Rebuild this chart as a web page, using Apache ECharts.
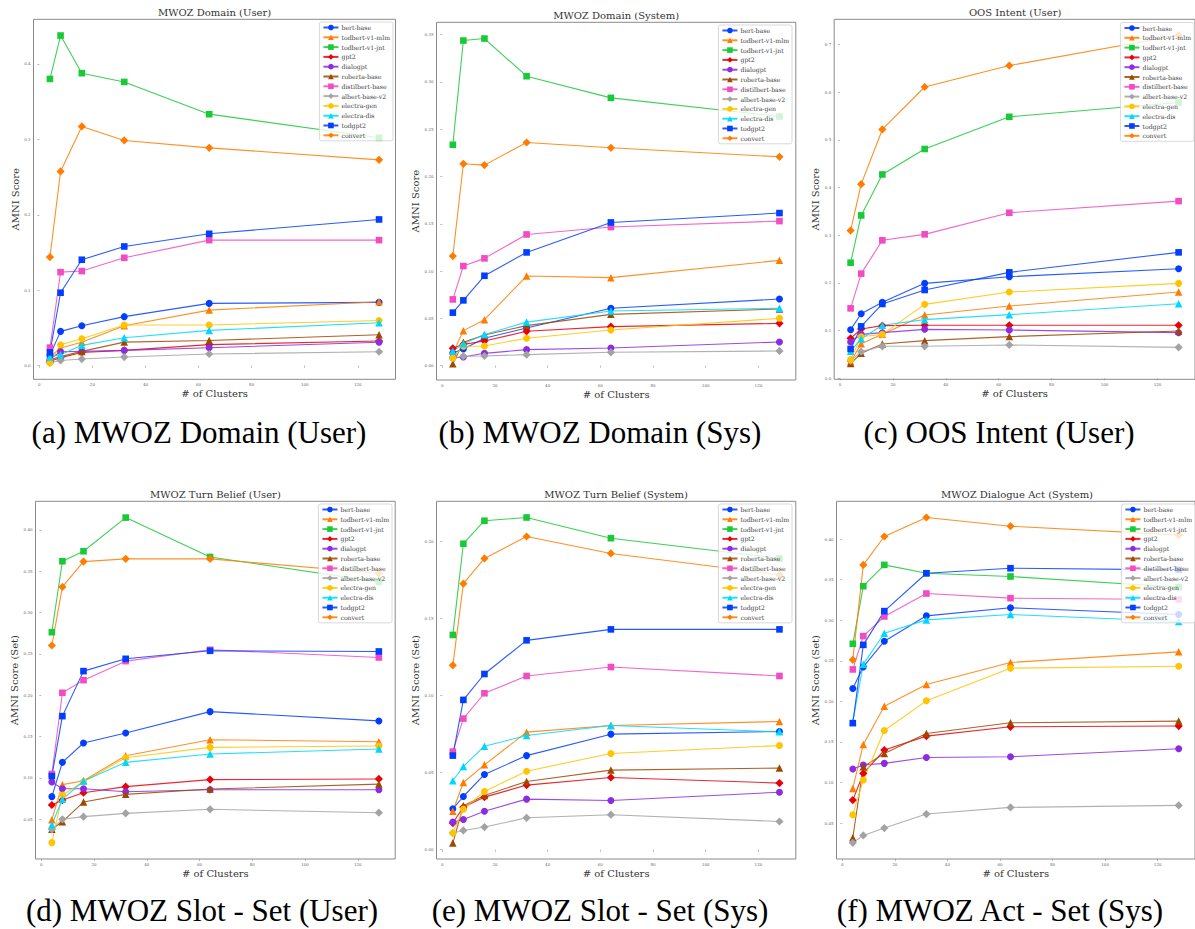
<!DOCTYPE html>
<html>
<head>
<meta charset="utf-8">
<script src="https://cdn.jsdelivr.net/npm/echarts@6/dist/echarts.min.js"></script>
<style>
html,body{margin:0;padding:0;background:#fff;}
#chart{width:1195px;height:929px;}
</style>
</head>
<body>
<div id="chart"></div>
<script>
// ---------- DATA ----------
const clusters = [4, 8, 16, 32, 64, 128];
const modelNames = ['bert-base','todbert-v1-mlm','todbert-v1-jnt','gpt2','dialogpt','roberta-base',
  'distilbert-base','albert-base-v2','electra-gen','electra-dis','todgpt2','convert'];
const xTickLabels = [0, 20, 40, 60, 80, 100, 120];

const panelTitles = ['MWOZ Domain (User)','MWOZ Domain (System)','OOS Intent (User)',
  'MWOZ Turn Belief (User)','MWOZ Turn Belief (System)','MWOZ Dialogue Act (System)'];
const panelCaptions = ['(a) MWOZ Domain (User)','(b) MWOZ Domain (Sys)','(c) OOS Intent (User)',
  '(d) MWOZ Slot - Set (User)','(e) MWOZ Slot - Set (Sys)','(f) MWOZ Act - Set (Sys)'];
const yAxisNames = ['AMNI Score','AMNI Score','AMNI Score','AMNI Score (Set)','AMNI Score (Set)','AMNI Score (Set)'];

const yTicksA = [0.0, 0.1, 0.2, 0.3, 0.4];
const yTicksB = [0.00, 0.05, 0.10, 0.15, 0.20, 0.25, 0.30, 0.35];
const yTicksC = [0.0, 0.1, 0.2, 0.3, 0.4, 0.5, 0.6, 0.7];
const yTicksD = [0.05, 0.10, 0.15, 0.20, 0.25, 0.30, 0.35, 0.40];
const yTicksE = [0.00, 0.05, 0.10, 0.15, 0.20];
const yTicksF = [0.05, 0.10, 0.15, 0.20, 0.25, 0.30, 0.35, 0.40];

// rows follow modelNames order; columns follow clusters
const domainUser = [
  [0.014, 0.0455, 0.053, 0.065, 0.0826, 0.0839],
  [0.012, 0.0234, 0.031, 0.053, 0.0737, 0.0848],
  [0.380, 0.4375, 0.3876, 0.376, 0.3333, 0.302],
  [0.006, 0.0106, 0.0175, 0.0203, 0.028, 0.0327],
  [0.009, 0.0185, 0.019, 0.0203, 0.0238, 0.031],
  [0.008, 0.012, 0.019, 0.0313, 0.0335, 0.041],
  [0.024, 0.124, 0.1254, 0.143, 0.1664, 0.1664],
  [0.004, 0.007, 0.0088, 0.0115, 0.0155, 0.0185],
  [0.0035, 0.0278, 0.0358, 0.054, 0.054, 0.060],
  [0.0115, 0.0146, 0.027, 0.037, 0.0468, 0.057],
  [0.0177, 0.0967, 0.1404, 0.158, 0.1748, 0.1938],
  [0.144, 0.2574, 0.317, 0.2985, 0.2887, 0.2728]
];
const domainSys = [
  [0.0134, 0.0176, 0.029, 0.0398, 0.0606, 0.0704],
  [0.0127, 0.037, 0.0486, 0.0947, 0.093, 0.1113],
  [0.2335, 0.3437, 0.3458, 0.306, 0.2831, 0.2634],
  [0.0183, 0.0225, 0.026, 0.0363, 0.0412, 0.0447],
  [0.008, 0.0092, 0.013, 0.0169, 0.0187, 0.025],
  [0.002, 0.0246, 0.0324, 0.0423, 0.0542, 0.0599],
  [0.070, 0.1053, 0.1134, 0.1387, 0.1465, 0.1528],
  [0.008, 0.0099, 0.0102, 0.0116, 0.0141, 0.0155],
  [0.008, 0.0204, 0.0208, 0.0289, 0.0377, 0.050],
  [0.0155, 0.023, 0.033, 0.046, 0.0577, 0.0606],
  [0.056, 0.069, 0.095, 0.1197, 0.1514, 0.1613],
  [0.1158, 0.2134, 0.212, 0.2359, 0.2303, 0.2208]
];
const oosIntent = [
  [0.1021, 0.1356, 0.1594, 0.1992, 0.2132, 0.230],
  [0.035, 0.0728, 0.0923, 0.1328, 0.1517, 0.181],
  [0.2425, 0.3417, 0.4276, 0.481, 0.5485, 0.5785],
  [0.084, 0.1035, 0.1105, 0.1112, 0.1112, 0.1112],
  [0.0763, 0.0923, 0.0958, 0.1028, 0.1014, 0.0958],
  [0.0309, 0.0525, 0.0721, 0.0791, 0.0875, 0.0993],
  [0.1468, 0.2196, 0.2895, 0.302, 0.3473, 0.3717],
  [0.0364, 0.056, 0.0672, 0.0672, 0.070, 0.065],
  [0.0393, 0.0874, 0.0923, 0.1552, 0.181, 0.1992],
  [0.0567, 0.0832, 0.1112, 0.1231, 0.1336, 0.1566],
  [0.0616, 0.109, 0.156, 0.1853, 0.2223, 0.2642],
  [0.310, 0.4073, 0.522, 0.611, 0.656, 0.7197]
];
const slotUser = [
  [0.0774, 0.1189, 0.1423, 0.1544, 0.1802, 0.169],
  [0.0496, 0.0919, 0.0967, 0.1269, 0.1463, 0.1438],
  [0.2763, 0.3621, 0.3742, 0.4149, 0.3673, 0.3371],
  [0.0673, 0.0733, 0.0822, 0.0895, 0.098, 0.0988],
  [0.0951, 0.087, 0.087, 0.0834, 0.0858, 0.0858],
  [0.0379, 0.0471, 0.0709, 0.0802, 0.0866, 0.0926],
  [0.1048, 0.203, 0.2183, 0.2413, 0.255, 0.2457],
  [0.0379, 0.050, 0.0532, 0.0572, 0.0621, 0.058],
  [0.0218, 0.0794, 0.0955, 0.1245, 0.137, 0.1386],
  [0.0435, 0.0742, 0.0963, 0.1189, 0.129, 0.135],
  [0.1023, 0.1748, 0.2292, 0.2441, 0.2538, 0.253],
  [0.2602, 0.3311, 0.3617, 0.365, 0.365, 0.3476]
];
const slotSys = [
  [0.0265, 0.0345, 0.0488, 0.061, 0.0749, 0.0766],
  [0.025, 0.0436, 0.055, 0.0762, 0.0805, 0.0831],
  [0.1392, 0.1983, 0.2132, 0.2153, 0.2019, 0.1888],
  [0.0173, 0.0276, 0.0341, 0.0419, 0.0468, 0.0432],
  [0.0179, 0.0196, 0.025, 0.0328, 0.0319, 0.0373],
  [0.0043, 0.0285, 0.0352, 0.0442, 0.0516, 0.0529],
  [0.0636, 0.085, 0.1014, 0.1126, 0.1184, 0.1126],
  [0.0108, 0.0125, 0.0147, 0.0207, 0.0227, 0.0183],
  [0.0108, 0.0263, 0.0378, 0.0509, 0.0624, 0.0675],
  [0.0447, 0.054, 0.0671, 0.074, 0.0805, 0.0764],
  [0.061, 0.0971, 0.1139, 0.1357, 0.1428, 0.1428],
  [0.1195, 0.1724, 0.1888, 0.203, 0.192, 0.1782]
];
const actSys = [
  [0.216, 0.2426, 0.2742, 0.3055, 0.3154, 0.3072],
  [0.0927, 0.1469, 0.1941, 0.2208, 0.248, 0.2611],
  [0.271, 0.342, 0.3683, 0.358, 0.354, 0.3408],
  [0.0783, 0.1112, 0.140, 0.1572, 0.1687, 0.1696],
  [0.1166, 0.1215, 0.1236, 0.1309, 0.1318, 0.1417],
  [0.0319, 0.1194, 0.1358, 0.1605, 0.1736, 0.1757],
  [0.2394, 0.2805, 0.3047, 0.333, 0.3273, 0.3256],
  [0.0257, 0.0348, 0.0438, 0.0611, 0.0693, 0.0718],
  [0.0603, 0.103, 0.1642, 0.2007, 0.241, 0.2434],
  [0.175, 0.2459, 0.2841, 0.3005, 0.3072, 0.2986],
  [0.1732, 0.2697, 0.3113, 0.358, 0.3642, 0.3622],
  [0.2512, 0.3683, 0.4033, 0.4267, 0.416, 0.4053]
];

// ---------- STYLE / LAYOUT ----------
const colors = ['#023eff','#ff7c00','#1ac938','#e8000b','#8b2be2','#9f4800',
  '#f14cc1','#a3a3a3','#ffc400','#00d7ff','#023eff','#ff7c00'];
const symbols = ['circle','triangle','rect','diamond','circle','triangle','rect','diamond','circle','triangle','rect','diamond'];
const symSize = {circle: 7, triangle: 7.5, rect: 6.6, diamond: 8.2};

const panelValues = [domainUser, domainSys, oosIntent, slotUser, slotSys, actSys];
const panelYTicks = [yTicksA, yTicksB, yTicksC, yTicksD, yTicksE, yTicksF];
const panelDecimals = [1, 2, 1, 2, 2, 2];
const panelYRange = [[-0.018, 0.459], [-0.0152, 0.363], [-0.002, 0.753], [0.002, 0.4346], [-0.006, 0.2258], [0.0057, 0.4467]];
const grids = [
  {left: 33.5, top: 19.3, width: 362, height: 360},
  {left: 436.5, top: 22.3, width: 359.3, height: 357.7},
  {left: 834.2, top: 19.3, width: 361.8, height: 360},
  {left: 35.5, top: 501.3, width: 359.7, height: 357.7},
  {left: 436.5, top: 501.3, width: 359.3, height: 357.7},
  {left: 836.5, top: 501.3, width: 361, height: 357.7}
];
const legendPos = [
  {right: 802, top: 22}, {right: 403, top: 25}, {right: 1, top: 22.5},
  {right: 803, top: 504}, {right: 403, top: 504}, {right: 0, top: 504}
];
const yNameGap = [12, 14, 12, 13, 14, 13];
const captionPos = [[199, 432], [600, 432], [999, 432], [202, 910], [600, 910], [1000, 910]];

const serif = 'DejaVu Serif';
const times = "'Liberation Serif', 'Times New Roman', Times, serif";
const chart = echarts.init(document.getElementById('chart'), null, {renderer: 'svg'});

const option = {
  animation: false,
  backgroundColor: '#ffffff',
  grid: [], xAxis: [], yAxis: [], series: [], legend: [], graphic: []
};

panelValues.forEach((vals, pi) => {
  const g = grids[pi];
  option.grid.push({left: g.left, top: g.top, width: g.width, height: g.height,
    show: true, borderColor: '#8a8a8a', borderWidth: 1, backgroundColor: 'transparent', containLabel: false});
  option.xAxis.push({
    type: 'value', gridIndex: pi, min: -2.2, max: 134.2,
    name: '# of Clusters', nameLocation: 'middle', nameGap: 9,
    nameTextStyle: {fontFamily: serif, fontSize: 10, color: '#333'},
    axisLine: {show: false},
    axisTick: {show: true, length: 2, customValues: xTickLabels, lineStyle: {color: '#8a8a8a', width: 0.6}},
    axisLabel: {customValues: xTickLabels, fontSize: 4, color: '#666', margin: 3, fontFamily: serif},
    splitLine: {show: false}
  });
  const yt = panelYTicks[pi], dec = panelDecimals[pi];
  option.yAxis.push({
    type: 'value', gridIndex: pi, min: panelYRange[pi][0], max: panelYRange[pi][1],
    name: yAxisNames[pi], nameLocation: 'middle', nameGap: yNameGap[pi],
    nameTextStyle: {fontFamily: serif, fontSize: 10, color: '#333'},
    axisLine: {show: false},
    axisTick: {show: true, length: 2, customValues: yt, lineStyle: {color: '#8a8a8a', width: 0.6}},
    axisLabel: {customValues: yt, fontSize: 4, color: '#666', margin: 3, fontFamily: serif,
      formatter: v => Number(v).toFixed(dec)},
    splitLine: {show: false}
  });
  vals.forEach((row, si) => {
    const sym = symbols[si];
    option.series.push({
      type: 'line', name: modelNames[si], xAxisIndex: pi, yAxisIndex: pi,
      data: clusters.map((c, i) => [c, row[i]]),
      symbol: sym, symbolSize: symSize[sym], showSymbol: true,
      itemStyle: {color: colors[si], opacity: 1},
      lineStyle: {color: colors[si], width: 1.1, opacity: 0.85},
      emphasis: {disabled: true}
    });
  });
  option.legend.push(Object.assign({
    orient: 'vertical', data: modelNames.slice(),
    itemWidth: 15, itemHeight: 7, itemGap: 2.8,
    padding: [2, 3, 2, 3],
    backgroundColor: 'rgba(255,255,255,0.8)', borderColor: '#d0d0d0', borderWidth: 0.8, borderRadius: 2,
    textStyle: {fontFamily: serif, fontSize: 6.2, lineHeight: 7, color: '#444', padding: [0, 0, 0, -2]},
    selectedMode: false
  }, legendPos[pi]));
  option.graphic.push({
    type: 'text', x: g.left + g.width / 2, y: g.top - 6.5, silent: true,
    style: {text: panelTitles[pi], fontFamily: serif, fontSize: 10, fill: '#333', align: 'center', verticalAlign: 'middle'}
  });
  option.graphic.push({
    type: 'text', x: captionPos[pi][0], y: captionPos[pi][1], silent: true,
    style: {text: panelCaptions[pi], fontFamily: times, fontSize: 31, fill: '#000', align: 'center', verticalAlign: 'middle'}
  });
});

chart.setOption(option);
</script>
</body>
</html>
